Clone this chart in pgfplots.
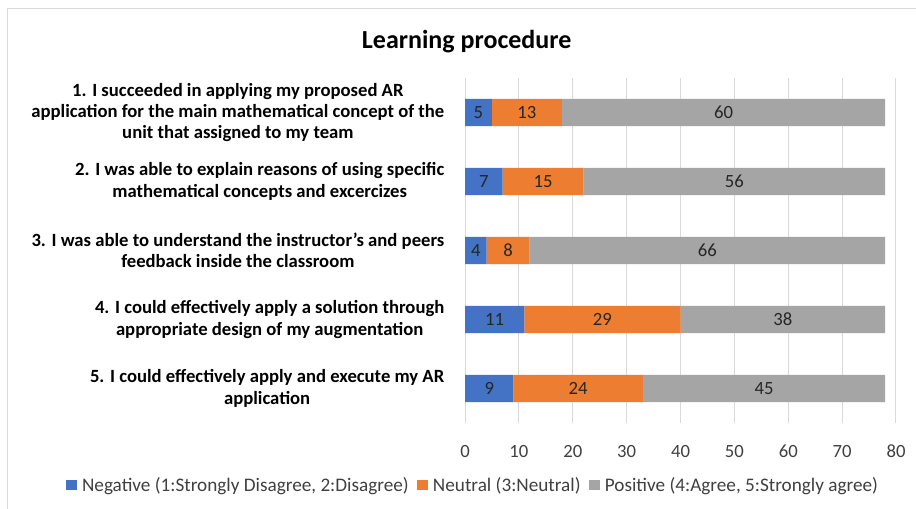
\documentclass[border=0pt]{standalone}
\usepackage{pgfplots}
\pgfplotsset{compat=1.18}
\usepackage{pgfplotstable}
\usepackage{fontspec}
\setmainfont{Carlito}
\definecolor{cneg}{HTML}{4472C4}
\definecolor{cneu}{HTML}{ED7D31}
\definecolor{cpos}{HTML}{A5A5A5}
\definecolor{cgrid}{HTML}{D9D9D9}
\definecolor{ctick}{HTML}{404040}
\pgfplotsset{sqlegend/.style={legend image code/.code={\fill[##1] (0pt,-3.75pt) rectangle (8.25pt,3.75pt);}}}
\pgfplotstableread{
y neg neu pos
1 5 13 60
2 7 15 56
3 4 8 66
4 11 29 38
5 9 24 45
}\datatable
\begin{document}
\begin{tikzpicture}
\useasboundingbox (0,0) rectangle (687pt,381.75pt);
\fill[white] (0,0) rectangle (687pt,381.75pt);
\draw[cgrid, line width=0.75pt] (5.25pt,0) -- (5.25pt,375.5pt) -- (690pt,375.5pt);
\node[font=\bfseries\fontsize{19.5}{23}\selectfont] at (350pt,350.25pt) {Learning procedure};
\begin{axis}[
  at={(348.75pt,64.5pt)}, anchor=south west,
  scale only axis, width=323.25pt, height=258.75pt,
  xmin=0, xmax=80, ymin=0.5, ymax=5.5, y dir=reverse,
  xbar stacked, bar width=20.6pt,
  axis line style={draw=none}, tick style={draw=none}, major tick length=0pt,
  xtick={0,10,...,80}, xmajorgrids, grid style={cgrid, line width=0.75pt},
  ytick={1,2,3,4,5},
  yticklabels={
    {1. I succeeded in applying my proposed AR\\application for the main mathematical concept of the\\unit that assigned to my team},
    {2. I was able to explain reasons of using specific\\mathematical concepts and excercizes},
    {3. I was able to understand the instructor’s and peers\\feedback inside the classroom},
    {4. I could effectively apply a solution through\\appropriate design of my augmentation},
    {5. I could effectively apply and execute my AR\\application}},
  yticklabel style={align=center, font=\bfseries\fontsize{14}{16}\selectfont, text=black, xshift=-12pt},
  xticklabel style={font=\fontsize{14}{16}\selectfont, text=ctick, yshift=-13pt},
  /pgf/number format/assume math mode=true,
  nodes near coords,
  every node near coord/.append style={anchor=center, font=\fontsize{14}{16}\selectfont, text=black!85},
  legend style={at={(0.0197,-0.18)}, anchor=center, legend columns=-1, draw=none, fill=none,
    font=\fontsize{14.4}{16}\selectfont, text=ctick,
    /tikz/every even column/.append style={column sep=4.5pt},
    /tikz/every odd column/.append style={column sep=1.5pt}},
  legend cell align=left,
]
\addplot[fill=cneg, draw=none, sqlegend] table[x=neg,y=y]{\datatable};
\addplot[fill=cneu, draw=none, sqlegend] table[x=neu,y=y]{\datatable};
\addplot[fill=cpos, draw=none, sqlegend] table[x=pos,y=y]{\datatable};
\legend{{Negative (1:Strongly Disagree, 2:Disagree)}, {Neutral (3:Neutral)}, {Positive (4:Agree, 5:Strongly agree)}}
\end{axis}
\end{tikzpicture}
\end{document}
